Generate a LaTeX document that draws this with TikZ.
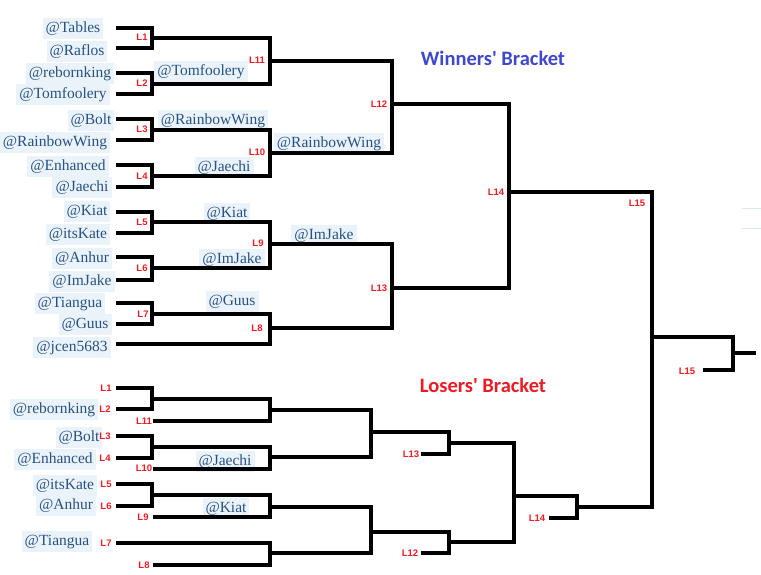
\documentclass[tikz,border=0pt]{standalone}
\usepackage{fontspec}
\setmainfont{Liberation Serif}
\newfontfamily\labfam{Liberation Sans}
\newfontfamily\titlefam{Carlito}
\definecolor{namebg}{RGB}{235,243,250}
\definecolor{namefg}{RGB}{40,82,130}
\definecolor{lred}{RGB}{237,28,36}
\definecolor{tblue}{RGB}{63,72,204}
\definecolor{faint}{RGB}{215,232,248}
\begin{document}
\begin{tikzpicture}[x=1pt,y=-1pt,line width=3.8pt,line join=miter,
  plname/.style={fill=namebg,text=namefg,font=\fontsize{15.5}{15.5}\selectfont,
    inner xsep=3pt,inner ysep=3.5pt,text height=11pt,text depth=3.5pt,yshift=-1.5pt},
  lab/.style={text=lred,font=\labfam\bfseries\fontsize{9.5}{9.5}\selectfont,inner sep=0pt},
  ttl/.style={font=\titlefam\bfseries\fontsize{20.5}{20.5}\selectfont,inner sep=0pt}]
\useasboundingbox (0,0) rectangle (761,575);

% ---------- titles ----------
\node[ttl,text=tblue] (wtitle) at (493,58) {Winners\textquotesingle{} Bracket};
\node[ttl,text=lred] (ltitle) at (483,385) {Losers\textquotesingle{} Bracket};

% ---------- winners: first round names ----------
\node[plname] (n1)  at (73,27)  {@Tables};
\node[plname] (n2)  at (77,50)  {@Raflos};
\node[plname] (n3)  at (70,72)  {@rebornking};
\node[plname] (n4)  at (63,93)  {@Tomfoolery};
\node[plname] (n5)  at (91,119) {@Bolt};
\node[plname] (n6)  at (55,141) {@RainbowWing};
\node[plname] (n7)  at (68,165) {@Enhanced};
\node[plname] (n8)  at (82,186) {@Jaechi};
\node[plname] (n9)  at (87,210) {@Kiat};
\node[plname] (n10) at (78,233) {@itsKate};
\node[plname] (n11) at (82,257) {@Anhur};
\node[plname] (n12) at (82,280) {@ImJake};
\node[plname] (n13) at (70,302) {@Tiangua};
\node[plname] (n14) at (85,323) {@Guus};
\node[plname] (n15) at (72,346) {@jcen5683};
% winners: later rounds
\node[plname] (r2a) at (201,70)  {@Tomfoolery};
\node[plname] (r2b) at (213,119) {@RainbowWing};
\node[plname] (r2c) at (224,166) {@Jaechi};
\node[plname] (r2d) at (227,212) {@Kiat};
\node[plname] (r2e) at (232,258) {@ImJake};
\node[plname] (r2f) at (232,300) {@Guus};
\node[plname] (r3a) at (329,142) {@RainbowWing};
\node[plname] (r3b) at (324,234) {@ImJake};

% ---------- losers names ----------
\node[plname] (m1) at (54,408)  {@rebornking};
\node[plname] (m2) at (79,436)  {@Bolt};
\node[plname] (m3) at (55,458)  {@Enhanced};
\node[plname] (m4) at (65,484)  {@itsKate};
\node[plname] (m5) at (66,504)  {@Anhur};
\node[plname] (m6) at (57,540)  {@Tiangua};
\node[plname] (m7) at (225,460) {@Jaechi};
\node[plname] (m8) at (226,507) {@Kiat};

% ---------- slot coordinates ----------
\coordinate (s1) at (116,28);  \coordinate (s2) at (116,48);
\coordinate (s3) at (116,73);  \coordinate (s4) at (116,94);
\coordinate (s5) at (116,119); \coordinate (s6) at (116,140);
\coordinate (s7) at (116,165); \coordinate (s8) at (116,187);
\coordinate (s9) at (116,212); \coordinate (s10) at (116,233);
\coordinate (s11) at (116,257); \coordinate (s12) at (116,280);
\coordinate (s13) at (116,303); \coordinate (s14) at (116,324);
\coordinate (s15) at (116,344);
% winners junctions
\coordinate (W1) at (152,38);  \coordinate (W2) at (152,84);
\coordinate (W3) at (152,130); \coordinate (W4) at (152,176);
\coordinate (W5) at (152,222); \coordinate (W6) at (152,268);
\coordinate (W7) at (152,314);
\coordinate (W11) at (270,61);  \coordinate (W10) at (270,153);
\coordinate (W9) at (270,244);  \coordinate (W8) at (270,328);
\coordinate (W12) at (392,104); \coordinate (W13) at (392,288);
\coordinate (W14) at (509,192);
\coordinate (F) at (652,337);
\coordinate (G) at (733,353);
\coordinate (gout) at (756,353);
\coordinate (g15) at (703,370);
% losers slots and junctions
\coordinate (t1) at (116,388); \coordinate (t2) at (116,409);
\coordinate (t3) at (116,436); \coordinate (t4) at (116,458);
\coordinate (t5) at (116,484); \coordinate (t6) at (116,506);
\coordinate (t7) at (116,543);
\coordinate (u11) at (153,421); \coordinate (u10) at (153,469);
\coordinate (u9) at (153,517);  \coordinate (u8) at (153,565);
\coordinate (u13) at (421,454); \coordinate (u12) at (421,553);
\coordinate (u14) at (549,518);
\coordinate (X1) at (152,399); \coordinate (X2) at (152,447);
\coordinate (X3) at (152,495);
\coordinate (X11) at (270,410); \coordinate (X10) at (270,457);
\coordinate (X9) at (270,507);  \coordinate (X8) at (270,553);
\coordinate (Y1) at (371,432);  \coordinate (Y2) at (371,532);
\coordinate (Z1) at (449,443);  \coordinate (Z2) at (449,542);
\coordinate (Q) at (514,496);   \coordinate (R) at (577,507);

% ---------- winners lines ----------
\draw (s1) -| (W1) |- (s2);
\draw (s3) -| (W2) |- (s4);
\draw (s5) -| (W3) |- (s6);
\draw (s7) -| (W4) |- (s8);
\draw (s9) -| (W5) |- (s10);
\draw (s11) -| (W6) |- (s12);
\draw (s13) -| (W7) |- (s14);
\draw (W1) -| (W11); \draw (W2) -| (W11);
\draw (W3) -| (W10); \draw (W4) -| (W10);
\draw (W5) -| (W9);  \draw (W6) -| (W9);
\draw (W7) -| (W8);  \draw (s15) -| (W8);
\draw (W11) -| (W12); \draw (W10) -| (W12);
\draw (W9) -| (W13);  \draw (W8) -| (W13);
\draw (W12) -| (W14); \draw (W13) -| (W14);
\draw (W14) -| (F);
\draw (F) -| (G); \draw (g15) -| (G); \draw (G) -- (gout);

% ---------- losers lines ----------
\draw (t1) -| (X1) |- (t2);
\draw (t3) -| (X2) |- (t4);
\draw (t5) -| (X3) |- (t6);
\draw (X1) -| (X11); \draw (u11) -| (X11);
\draw (X2) -| (X10); \draw (u10) -| (X10);
\draw (X3) -| (X9);  \draw (u9) -| (X9);
\draw (t7) -| (X8);  \draw (u8) -| (X8);
\draw (X11) -| (Y1); \draw (X10) -| (Y1);
\draw (X9) -| (Y2);  \draw (X8) -| (Y2);
\draw (Y1) -| (Z1);  \draw (u13) -| (Z1);
\draw (Y2) -| (Z2);  \draw (u12) -| (Z2);
\draw (Z1) -| (Q);   \draw (Z2) -| (Q);
\draw (Q) -| (R);    \draw (u14) -| (R);
\draw (R) -| (F);

% faint cell edge at right
\draw[faint,line width=0.8pt] (742,208) -- (761,208) (742,228) -- (761,228);

% ---------- red match labels: winners ----------
\node[lab] (a1) at (142,37)  {L1};
\node[lab] (a2) at (142,83)  {L2};
\node[lab] (a3) at (142,129) {L3};
\node[lab] (a4) at (142,176) {L4};
\node[lab] (a5) at (142,222) {L5};
\node[lab] (a6) at (142,268) {L6};
\node[lab] (a7) at (143,314) {L7};
\node[lab] (a11) at (257,60)  {L11};
\node[lab] (a10) at (257,152) {L10};
\node[lab] (a9) at (258,243)  {L9};
\node[lab] (a8) at (257,328)  {L8};
\node[lab] (a12) at (379,104) {L12};
\node[lab] (a13) at (379,288) {L13};
\node[lab] (a14) at (496,192) {L14};
\node[lab] (a15) at (637,203) {L15};
\node[lab] (b15) at (687,371) {L15};
% ---------- red match labels: losers ----------
\node[lab] (c1) at (106,388) {L1};
\node[lab] (c2) at (105,409) {L2};
\node[lab] (c11) at (144,421) {L11};
\node[lab] (c3) at (105,436) {L3};
\node[lab] (c4) at (105,458) {L4};
\node[lab] (c10) at (144,468) {L10};
\node[lab] (c5) at (106,484) {L5};
\node[lab] (c6) at (106,506) {L6};
\node[lab] (c9) at (143,517) {L9};
\node[lab] (c7) at (106,543) {L7};
\node[lab] (c8) at (144,565) {L8};
\node[lab] (c13) at (411,454) {L13};
\node[lab] (c12) at (410,553) {L12};
\node[lab] (c14) at (537,518) {L14};
\end{tikzpicture}
\end{document}
